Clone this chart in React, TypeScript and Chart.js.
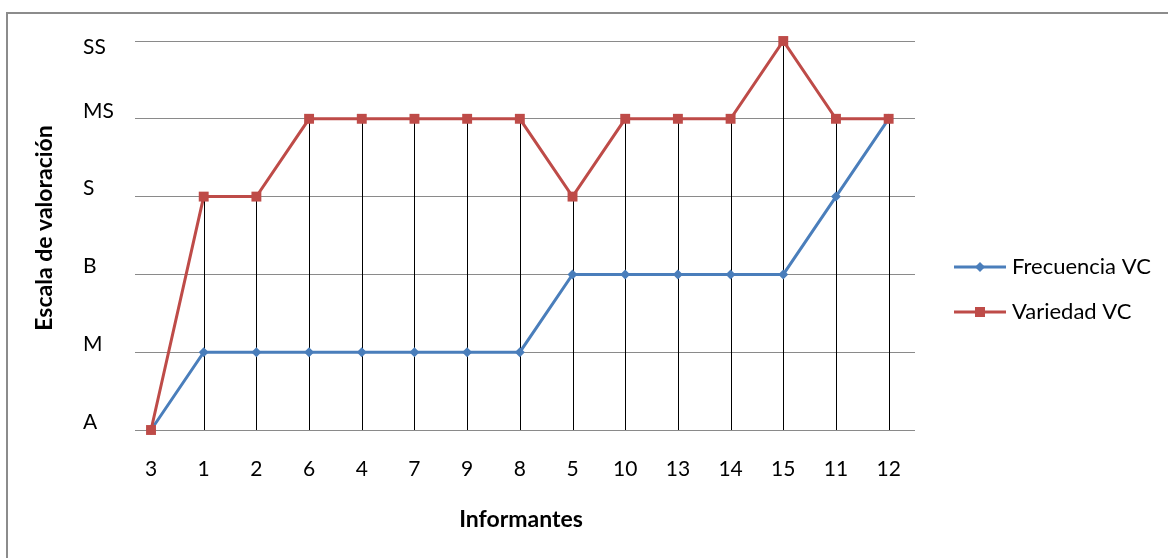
import React, { useEffect, useRef } from "react";
import { Chart, registerables } from "chart.js";

Chart.register(...registerables);

const categories = ["3", "1", "2", "6", "4", "7", "9", "8", "5", "10", "13", "14", "15", "11", "12"];
const yLevels = ["A", "M", "B", "S", "MS", "SS"];
const frecuencia = [0, 1, 1, 1, 1, 1, 1, 1, 2, 2, 2, 2, 2, 3, 4];
const variedad = [0, 3, 3, 4, 4, 4, 4, 4, 3, 4, 4, 4, 5, 4, 4];
const seriesNames = ["Frecuencia VC", "Variedad VC"];

const BLUE = "#4A7EBB";
const RED = "#BE4B48";
const GRID = "#8a8a8a";
const FONT = "Lato";

const extrasPlugin = {
  id: "extras",
  beforeDatasetsDraw(chart: any) {
    const { ctx, scales } = chart;
    const x = scales.x;
    const y = scales.y;
    ctx.save();
    ctx.strokeStyle = "#000";
    ctx.lineWidth = 1;
    for (let i = 0; i < categories.length; i++) {
      const top = Math.max(frecuencia[i], variedad[i]);
      if (top <= 0) continue;
      const px = Math.round(x.getPixelForValue(i)) + 0.5;
      ctx.beginPath();
      ctx.moveTo(px, y.getPixelForValue(top));
      ctx.lineTo(px, y.getPixelForValue(0));
      ctx.stroke();
    }
    ctx.restore();
  },
  afterDraw(chart: any) {
    const { ctx, chartArea, scales } = chart;
    ctx.save();
    // frame
    ctx.strokeStyle = "#8c8c8c";
    ctx.lineWidth = 2;
    ctx.strokeRect(7, 13, 1200, 600);
    // y tick labels
    ctx.fillStyle = "#000";
    ctx.font = `21px ${FONT}`;
    ctx.textAlign = "left";
    ctx.textBaseline = "middle";
    yLevels.forEach((lab, i) => {
      let py = scales.y.getPixelForValue(i) - 8;
      if (py < chartArea.top) py = chartArea.top + 6;
      ctx.fillText(lab, 83, py);
    });
    // axis titles
    ctx.font = `bold 23px ${FONT}`;
    ctx.textAlign = "center";
    ctx.textBaseline = "middle";
    ctx.fillText("Informantes", 521, 520);
    ctx.translate(45, 228);
    ctx.rotate(-Math.PI / 2);
    ctx.fillText("Escala de valoración", 0, 0);
    ctx.restore();

    // legend
    ctx.save();
    const colors = [BLUE, RED];
    const ys = [267, 312];
    ctx.font = `22px ${FONT}`;
    ctx.textAlign = "left";
    ctx.textBaseline = "middle";
    for (let k = 0; k < 2; k++) {
      ctx.strokeStyle = colors[k];
      ctx.lineWidth = 3;
      ctx.beginPath();
      ctx.moveTo(954, ys[k]);
      ctx.lineTo(1006, ys[k]);
      ctx.stroke();
      ctx.fillStyle = colors[k];
      if (k === 0) {
        ctx.beginPath();
        ctx.moveTo(980, ys[k] - 5);
        ctx.lineTo(985, ys[k]);
        ctx.lineTo(980, ys[k] + 5);
        ctx.lineTo(975, ys[k]);
        ctx.closePath();
        ctx.fill();
      } else {
        ctx.fillRect(975, ys[k] - 5, 10, 10);
      }
      ctx.fillStyle = "#000";
      ctx.fillText(seriesNames[k], 1012, ys[k]);
    }
    ctx.restore();
  },
};

export default function App() {
  const ref = useRef<HTMLCanvasElement | null>(null);
  useEffect(() => {
    if (!ref.current) return;
    const chart = new Chart(ref.current, {
      type: "line",
      data: {
        labels: categories,
        datasets: [
          {
            label: seriesNames[0],
            data: frecuencia.map((v, i) => ({ x: i, y: v })),
            borderColor: BLUE,
            backgroundColor: BLUE,
            borderWidth: 3,
            pointStyle: "rectRot",
            pointRadius: 5,
            pointBorderWidth: 0,
            pointBackgroundColor: BLUE,
            clip: false,
            order: 2,
          } as any,
          {
            label: seriesNames[1],
            data: variedad.map((v, i) => ({ x: i, y: v })),
            borderColor: RED,
            backgroundColor: RED,
            borderWidth: 3,
            pointStyle: "rect",
            pointRadius: 7,
            pointBorderWidth: 0,
            pointBackgroundColor: RED,
            clip: false,
            order: 1,
          } as any,
        ],
      },
      options: {
        animation: false,
        responsive: false,
        maintainAspectRatio: false,
        layout: { padding: { left: 83, top: 41, right: 253, bottom: 0 } },
        plugins: { legend: { display: false }, tooltip: { enabled: false } },
        scales: {
          x: {
            type: "linear",
            min: -0.304,
            max: 14.5,
            afterBuildTicks: (scale: any) => {
              scale.ticks = categories.map((_, i) => ({ value: i }));
            },
            afterFit: (scale: any) => {
              scale.height = 128;
            },
            grid: { display: false, drawTicks: false },
            border: { display: false },
            ticks: {
              autoSkip: false,
              maxRotation: 0,
              padding: 27,
              color: "#000",
              font: { family: FONT, size: 21 },
              callback: (v: any) => categories[Math.round(Number(v))] ?? "",
            },
          },
          y: {
            type: "linear",
            min: 0,
            max: 5,
            afterBuildTicks: (scale: any) => {
              scale.ticks = yLevels.map((_, i) => ({ value: i }));
            },
            afterFit: (scale: any) => {
              scale.width = 52;
            },
            grid: { color: GRID, lineWidth: 1, drawTicks: false },
            border: { display: false },
            ticks: { display: false },
          },
        },
      } as any,
      plugins: [extrasPlugin],
    });
    return () => chart.destroy();
  }, []);
  return (
    <div style={{ position: "fixed", left: 0, top: 0, width: 1168, height: 558, background: "#fff" }}>
      <canvas ref={ref} width={1168} height={558} style={{ width: 1168, height: 558 }} />
    </div>
  );
}
